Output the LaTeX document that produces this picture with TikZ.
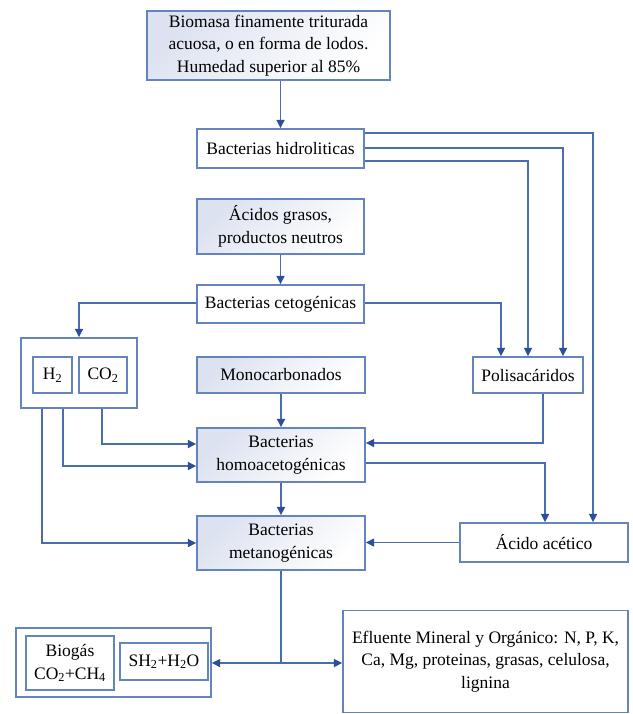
\documentclass[tikz,border=0pt]{standalone}
\usepackage{fontspec}
\setmainfont{Liberation Serif}
\usetikzlibrary{arrows.meta}
\definecolor{ln}{RGB}{74,108,176}
\definecolor{bd}{RGB}{100,132,192}
\definecolor{tip}{RGB}{45,78,155}
\definecolor{shd}{RGB}{220,226,240}
\tikzset{
  box/.style={draw=bd, line width=1.4pt, fill=white, inner sep=0pt, align=center,
    font=\fontsize{17.5}{22.5}\selectfont},
  shadebox/.style={box, top color=shd, bottom color=white, shading angle=45},
  arr/.style={draw=ln, line width=1.6pt, -{Triangle[length=8.5pt,width=8pt,fill=tip,color=tip]}},
  plain/.style={draw=ln, line width=1.6pt}
}
\begin{document}
\begin{tikzpicture}[x=1pt,y=-1pt]
\useasboundingbox[fill=white] (0,0) rectangle (632,714);
% nodes
\node[shadebox, minimum width=243pt, minimum height=69pt] (bio) at (268.5,45.5)
  {Biomasa finamente triturada\\acuosa, o en forma de lodos.\\Humedad superior al 85\%};
\node[box, minimum width=167pt, minimum height=39pt] (hid) at (280.5,148.5) {Bacterias hidroliticas};
\node[shadebox, minimum width=167pt, minimum height=55pt] (acid) at (280.5,226.5) {Ácidos grasos,\\productos neutros};
\node[box, minimum width=167pt, minimum height=38pt] (ceto) at (280.5,304) {Bacterias cetogénicas};
\node[box, minimum width=116pt, minimum height=70pt] (gas) at (79,373) {};
\node[box, minimum width=39pt, minimum height=36pt] (h2) at (52.5,375) {H\textsubscript{2}};
\node[box, minimum width=48pt, minimum height=36pt] (co2) at (103,375) {CO\textsubscript{2}};
\node[shadebox, minimum width=168pt, minimum height=36pt] (mono) at (281,375) {Monocarbonados};
\node[box, minimum width=110pt, minimum height=36pt] (poli) at (528,375) {Polisacáridos};
\node[shadebox, minimum width=168pt, minimum height=54pt] (homo) at (281,455) {Bacterias\\homoacetogénicas};
\node[shadebox, minimum width=168pt, minimum height=54pt] (meta) at (281,543) {Bacterias\\metanogénicas};
\node[box, minimum width=168pt, minimum height=39pt] (acet) at (544,542.5) {Ácido acético};
\node[box, minimum width=195pt, minimum height=69pt] (biog) at (113.5,662.5) {};
\node[box, minimum width=88pt, minimum height=54pt] (bgas) at (70,663) {Biogás\\CO\textsubscript{2}+CH\textsubscript{4}};
\node[box, minimum width=88pt, minimum height=37pt] (sh) at (164,661.5) {SH\textsubscript{2}+H\textsubscript{2}O};
\node[box, minimum width=285pt, minimum height=102pt] (efl) at (485.5,661.5)
  {Efluente Mineral y Orgánico: N, P, K,\\Ca, Mg, proteinas, grasas, celulosa,\\lignina};
% connectors
\draw[arr] (hid.north |- bio.south) -- (hid.north);
\draw[arr] (hid.east |- 0,133) -| (acet.north -| 593,0);
\draw[arr] (hid.east |- 0,148) -| (poli.north -| 563,0);
\draw[arr] (hid.east |- 0,161) -| (poli.north -| 528,0);
\draw[arr] (acid.south) -- (ceto.north);
\draw[arr] (ceto.east |- 0,303) -| (poli.north -| 501,0);
\draw[arr] (ceto.west |- 0,303) -| (gas.north);
\draw[arr] (gas.south -| 102,0) |- (homo.west |- 0,444);
\draw[arr] (gas.south -| 63,0) |- (homo.west |- 0,466);
\draw[arr] (gas.south -| 42,0) |- (meta.west |- 0,543);
\draw[arr] (mono.south) -- (homo.north);
\draw[arr] (poli.south -| 543,0) |- (homo.east |- 0,443);
\draw[arr] (homo.east |- 0,463) -| (acet.north -| 545,0);
\draw[arr] (homo.south) -- (meta.north);
\draw[arr] (acet.west) -- (meta.east |- acet.west);
\coordinate (j) at (meta.south |- 0,663);
\draw[plain] (meta.south) -- (j);
\draw[arr] (j) -- (biog.east |- j);
\draw[arr] (j) -- (efl.west |- j);
\end{tikzpicture}
\end{document}
